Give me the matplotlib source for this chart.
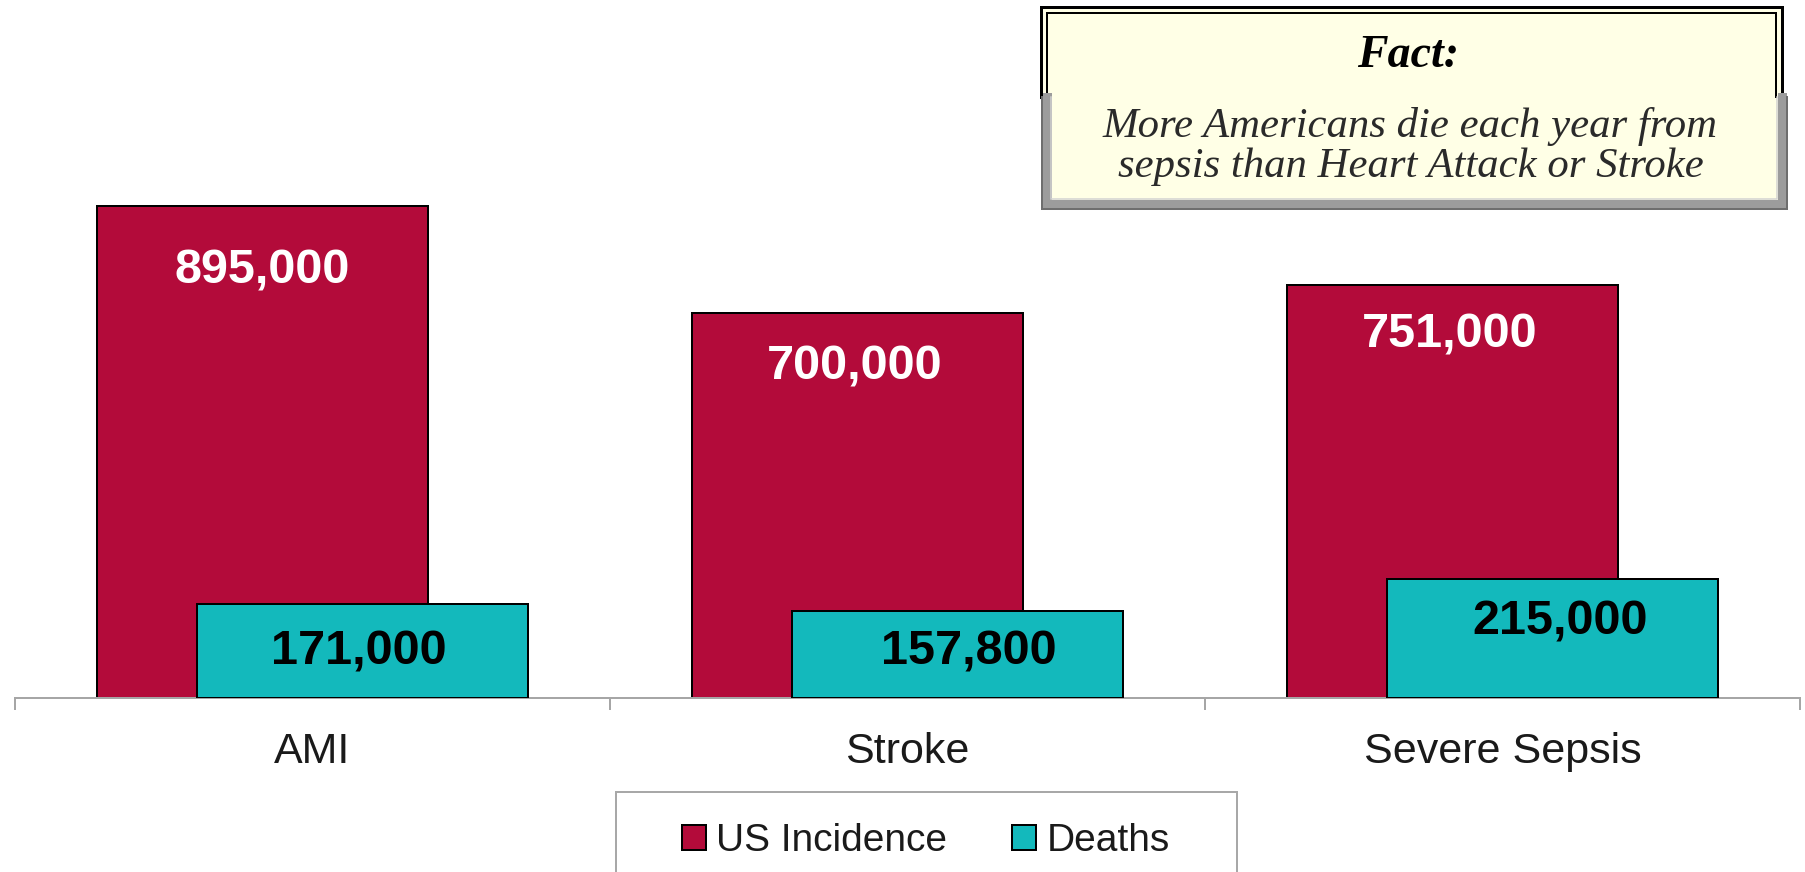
import matplotlib
matplotlib.use("Agg")
import matplotlib.pyplot as plt
from matplotlib.patches import Rectangle
from matplotlib.lines import Line2D
import numpy as np

# ---- data ----
categories = ["AMI", "Stroke", "Severe Sepsis"]
us_incidence = [895000, 700000, 751000]
deaths = [171000, 157800, 215000]
incidence_labels = ["895,000", "700,000", "751,000"]
death_labels = ["171,000", "157,800", "215,000"]
series_names = ["US Incidence", "Deaths"]
fact_title = "Fact:"
fact_lines = ["More Americans die each year from", "sepsis than Heart Attack or Stroke"]

# ---- style ----
RED = "#B30B3A"
TEAL = "#13B9BC"
YELLOW = "#FFFFE6"
W, H = 1805, 872
PX = 72 / 100.0  # px -> pt

# label offsets (dx px, baseline px below bar top)
red_off = [(0, 77), (-3, 66), (-3, 62)]
teal_off = [(-4, 61), (11, 54), (8, 55)]

plt.rcParams["font.family"] = ["Liberation Sans", "DejaVu Sans"]
fig = plt.figure(figsize=(W / 100, H / 100), dpi=100)
fig.patch.set_facecolor("white")

base_y = 697.5
ax = fig.add_axes([15 / W, (H - base_y) / H, 1785 / W, base_y / H])
px_per_unit = 0.000549
ax.set_xlim(-0.5, 2.5)
ax.set_ylim(0, base_y / px_per_unit)

x = np.arange(len(categories))
bw = 331 / 595
off = 50 / 595
b1 = ax.bar(x - off, us_incidence, width=bw, color=RED, edgecolor="black",
            linewidth=2 * PX, zorder=2, label=series_names[0])
b2 = ax.bar(x + off, deaths, width=bw, color=TEAL, edgecolor="black",
            linewidth=2 * PX, zorder=3, label=series_names[1])

for i in range(len(categories)):
    ax.annotate(incidence_labels[i], (x[i] - off, us_incidence[i]),
                xytext=(red_off[i][0] * PX, -red_off[i][1] * PX),
                textcoords="offset points", ha="center", va="baseline",
                fontsize=35, fontweight="bold", color="white", zorder=5)
    ax.annotate(death_labels[i], (x[i] + off, deaths[i]),
                xytext=(teal_off[i][0] * PX, -teal_off[i][1] * PX),
                textcoords="offset points", ha="center", va="baseline",
                fontsize=35, fontweight="bold", color="black", zorder=5)

for s in ["top", "left", "right"]:
    ax.spines[s].set_visible(False)
ax.spines["bottom"].set_color("#A6A6A6")
ax.spines["bottom"].set_linewidth(2 * PX)
ax.set_yticks([])
ax.set_xticks([-0.5, 0.5, 1.5, 2.5])
ax.set_xticklabels([])
ax.tick_params(axis="x", which="major", length=12 * PX, width=2 * PX,
               color="#A6A6A6", direction="out")
ax.set_xticks(x, minor=True)
ax.set_xticklabels(categories, minor=True, fontsize=31, color="#1a1a1a")
ax.tick_params(axis="x", which="minor", length=0, pad=24.5)
ax.patch.set_alpha(0)

# ---- overlay in pixel coordinates ----
ov = fig.add_axes([0, 0, 1, 1], zorder=3)
ov.set_xlim(0, W)
ov.set_ylim(H, 0)
ov.axis("off")
ov.patch.set_alpha(0)

# legend frame
ov.add_patch(Rectangle((616, 792), 1237 - 616, 100, facecolor="white",
                       edgecolor="#A8A8A8", linewidth=2 * PX))

# fact box - upper part (double black border)
ov.add_patch(Rectangle((1041, 7), 1782 - 1041, 100, facecolor=YELLOW,
                       edgecolor="none"))
ov.add_line(Line2D([1041, 1041, 1782, 1782], [97, 7, 7, 97], color="black",
                   linewidth=3 * PX, solid_joinstyle="miter"))
ov.add_line(Line2D([1047, 1047, 1776, 1776], [97, 13, 13, 97], color="black",
                   linewidth=2 * PX, solid_joinstyle="miter"))
# lower part (grey bevel)
ov.add_patch(Rectangle((1042, 97), 1787 - 1042, 210 - 97, facecolor=YELLOW,
                       edgecolor="none"))
ov.add_line(Line2D([1046.5, 1046.5, 1781.5, 1781.5], [97, 204, 204, 97],
                   color="#9C9C9C", linewidth=9 * PX, solid_joinstyle="miter"))
ov.add_line(Line2D([1042, 1042, 1786.5, 1786.5], [97, 209.5, 209.5, 97],
                   color="#6E6E6E", linewidth=2 * PX, solid_joinstyle="miter"))
ov.add_line(Line2D([1051, 1051, 1777, 1777], [97, 199.5, 199.5, 97],
                   color="#D2D2D2", linewidth=1.5 * PX, solid_joinstyle="miter"))

ov.text(1408, 67, fact_title, ha="center", va="baseline", fontsize=33,
        family="Liberation Serif", style="italic", fontweight="bold",
        color="black")
ov.text(1410, 137, fact_lines[0], ha="center", va="baseline", fontsize=30.8,
        family="Liberation Serif", style="italic", color="#2a2a2a")
ov.text(1411, 177, fact_lines[1], ha="center", va="baseline", fontsize=30.8,
        family="Liberation Serif", style="italic", color="#2a2a2a")

# legend
leg = fig.legend([b1, b2], series_names, loc="center",
                 bbox_to_anchor=(926 / W, 1 - 841 / H), ncol=2, frameon=False,
                 fontsize=28, handlelength=0.62, handleheight=0.62,
                 handletextpad=0.26, columnspacing=1.67, borderaxespad=0)
for t in leg.get_texts():
    t.set_color("#1a1a1a")
leg.set_zorder(10)

fig.savefig("out.png", dpi=100, facecolor="white")
